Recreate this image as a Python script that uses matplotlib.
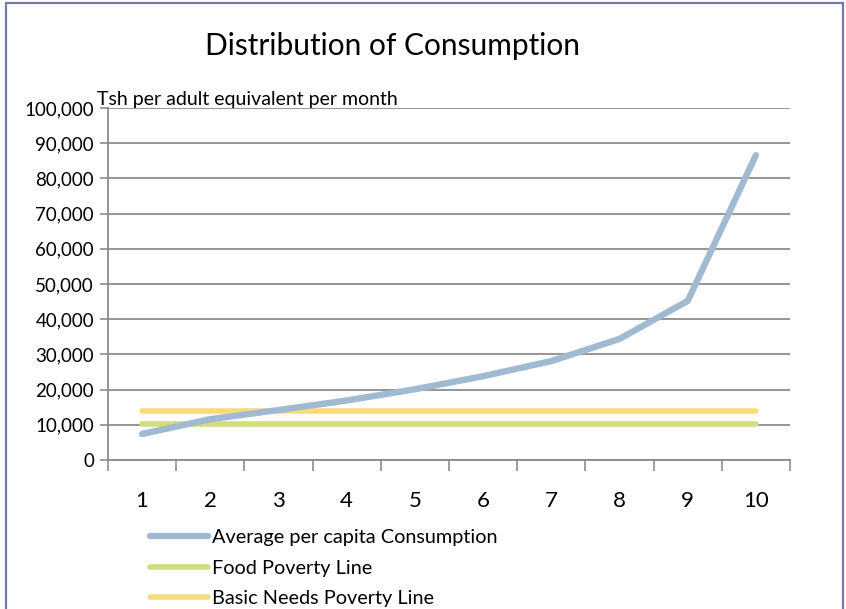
import matplotlib
matplotlib.use("Agg")
import numpy as np
from matplotlib import pyplot as plt
from matplotlib.patches import Rectangle
from matplotlib.ticker import FuncFormatter

plt.rcParams['font.family'] = ['Lato', 'DejaVu Sans']

# Consumption deciles, Tsh per adult equivalent per month
deciles = [1, 2, 3, 4, 5, 6, 7, 8, 9, 10]
avg_consumption = [7400, 11600, 14200, 16900, 20100, 23800, 28100, 34400, 45200, 86600]
food_poverty_line = 10219
basic_needs_line = 13998

BLUE = '#a0bad2'
GREEN = '#d2dd7c'
YELLOW = '#fadb7c'
GRID = '#8c8c8c'

fig = plt.figure(figsize=(8.46, 6.09), dpi=100)
ax = fig.add_axes([108 / 846, 1 - 460 / 609, 682 / 846, 352 / 609])

x = np.array(deciles)
ax.plot(x, avg_consumption, color=BLUE, lw=4.6, solid_capstyle='round',
        solid_joinstyle='round', label='Average per capita Consumption', zorder=3)
ax.plot(x, [food_poverty_line] * len(x), color=GREEN, lw=4.0,
        solid_capstyle='round', label='Food Poverty Line', zorder=2)
ax.plot(x, [basic_needs_line] * len(x), color=YELLOW, lw=4.0,
        solid_capstyle='round', label='Basic Needs Poverty Line', zorder=2)

# Axis limits and gridlines
ax.set_xlim(0.5, 10.5)
ax.set_ylim(0, 100000)
ax.set_yticks(np.arange(0, 100001, 10000))
ax.yaxis.set_major_formatter(FuncFormatter(lambda v, p: f"{int(v):,}"))
ax.yaxis.grid(True, color=GRID, lw=1.3)
ax.set_axisbelow(True)

# Category axis: tick marks between categories, labels at centres
ax.set_xticks(np.arange(0.5, 11, 1))
ax.set_xticklabels([])
ax.set_xticks(x, minor=True)
ax.set_xticklabels([str(d) for d in deciles], minor=True, fontsize=16)
ax.tick_params(axis='x', which='major', length=8, width=1.2, color=GRID, direction='out')
ax.tick_params(axis='x', which='minor', length=0, pad=22)
ax.tick_params(axis='y', length=6, width=1.2, color=GRID, labelsize=13.5, pad=4)

for side in ['top', 'right']:
    ax.spines[side].set_visible(False)
for side in ['left', 'bottom']:
    ax.spines[side].set_color(GRID)
    ax.spines[side].set_linewidth(1.3)

ax.text(-0.016, 1.0, 'Tsh per adult equivalent per month', transform=ax.transAxes,
        fontsize=14, ha='left', va='bottom')

fig.text(392 / 846, 1 - 46 / 609, 'Distribution of Consumption', fontsize=21.5,
         ha='center', va='center')

leg = ax.legend(loc='upper left', bbox_to_anchor=(150 / 846, 1 - 529 / 609),
                bbox_transform=fig.transFigure, frameon=False, fontsize=14.3,
                handlelength=2.9, handletextpad=0.2, labelspacing=0.68,
                borderpad=0, borderaxespad=0)

# Outer frame around the chart area
fig.add_artist(Rectangle((6 / 846, -0.2), 837 / 846, 1.2 - 3 / 609,
                         transform=fig.transFigure, fill=False,
                         edgecolor='#737ba3', lw=1.6))

fig.savefig('out.png', dpi=100)
